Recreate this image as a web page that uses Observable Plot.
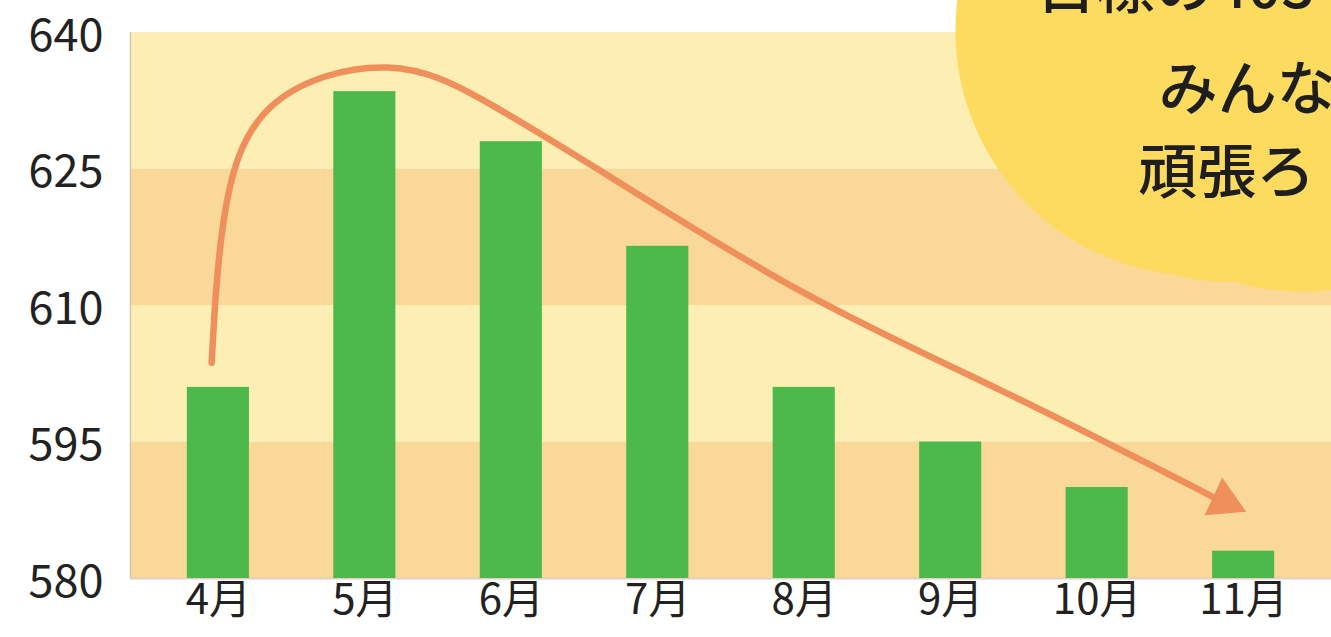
<!DOCTYPE html>
<html><head><meta charset="utf-8">
<script src="https://cdn.jsdelivr.net/npm/d3@7"></script>
<script src="https://cdn.jsdelivr.net/npm/@observablehq/plot@0.6"></script>
<style>
body{margin:0;background:#fff}
#wrap{width:1331px;height:637px;overflow:hidden;position:relative;background:#fff}
</style>
</head><body><div id="wrap"></div>
<script>
// categories and values
const months = ["4月","5月","6月","7月","8月","9月","10月","11月"];
const values = [601, 633.5, 628, 616.5, 601, 595, 590, 583];
const yTicks = [580, 595, 610, 625, 640];
const lightBands = [{lo: 595, hi: 610}, {lo: 625, hi: 640}];
const darkBands = [{lo: 580, hi: 595}, {lo: 610, hi: 625}];
// trend arrow path (month index, value)
const arrowIdx = [-0.046, 0.036, 0.356, 1.155, 1.838, 2.609, 3.974, 5.339, 6.787];
const arrowVal = [603.7, 619.3, 631.8, 636.15, 632.3, 624.8, 611.6, 600.7, 589.0];
const arrowHead = [{i: 6.868, v: 588.46}];
// speech cloud
const cloudMain = [{i: 6.705, v: 640.2}];
const cloudMid = [{i: 6.91, v: 639.2}];
const cloudSide = [{i: 7.398, v: 639.0}];
const cloudLines = ["目標の403", "みんな", "頑張ろ"];
const cloudIdx = [5.59, 6.42, 6.28];
const cloudVal = [644.8, 633.6, 624.4];

const bars = months.map((m, i) => ({i, m, v: values[i]}));
const arrow = arrowIdx.map((x, k) => ({i: x, v: arrowVal[k]}));
const texts = cloudLines.map((t, k) => ({t, i: cloudIdx[k], v: cloudVal[k]}));
const xDomain = [-0.6, 7.6];
const cloudFill = "#fddb5e";

const chart = Plot.plot({
  width: 1331,
  height: 637,
  marginLeft: 130,
  marginRight: 0,
  marginTop: 32,
  marginBottom: 59,
  style: {fontFamily: "'Noto Sans CJK JP', 'Noto Sans', sans-serif", fontSize: "44px", color: "#222", background: "#fff", overflow: "hidden"},
  x: {domain: xDomain},
  y: {domain: [580, 640]},
  marks: [
    Plot.rect(lightBands, {y1: "lo", y2: "hi", fill: "#fdefb3"}),
    Plot.rect(darkBands, {y1: "lo", y2: "hi", fill: "#f9d898"}),
    Plot.ruleX([xDomain[0]], {stroke: "#d6c7a2", strokeWidth: 1.5}),
    Plot.ruleY([580], {stroke: "#e3d0c2", strokeWidth: 2}),
    Plot.rectY(bars, {x1: d => d.i - 0.212, x2: d => d.i + 0.212, y1: 580, y2: "v", fill: "#4db84b"}),
    Plot.line(arrow, {x: "i", y: "v", curve: "natural", stroke: "#ef8f5b", strokeWidth: 6.5, strokeLinecap: "round"}),
    Plot.dot(arrowHead, {x: "i", y: "v", symbol: "triangle", r: 15.5, fill: "#ef8f5b", stroke: "none", rotate: 115}),
    Plot.dot(cloudMain, {x: "i", y: "v", r: 245, fill: cloudFill, stroke: "none"}),
    Plot.dot(cloudMid, {x: "i", y: "v", r: 242, fill: cloudFill, stroke: "none"}),
    Plot.dot(cloudSide, {x: "i", y: "v", r: 250, fill: cloudFill, stroke: "none"}),
    Plot.text(texts, {x: "i", y: "v", text: "t", textAnchor: "start", lineAnchor: "middle", fontSize: 59, fontWeight: 500, fill: "#1e1e1e"}),
    Plot.axisY({ticks: yTicks, tickSize: 0, tickPadding: 27, dy: 4, fontSize: 45, label: null}),
    Plot.axisX({ticks: d3.range(months.length), tickFormat: i => months[i], tickSize: 0, tickPadding: 6, fontSize: 42, label: null})
  ]
});
document.getElementById("wrap").appendChild(chart);
</script>
</body></html>
